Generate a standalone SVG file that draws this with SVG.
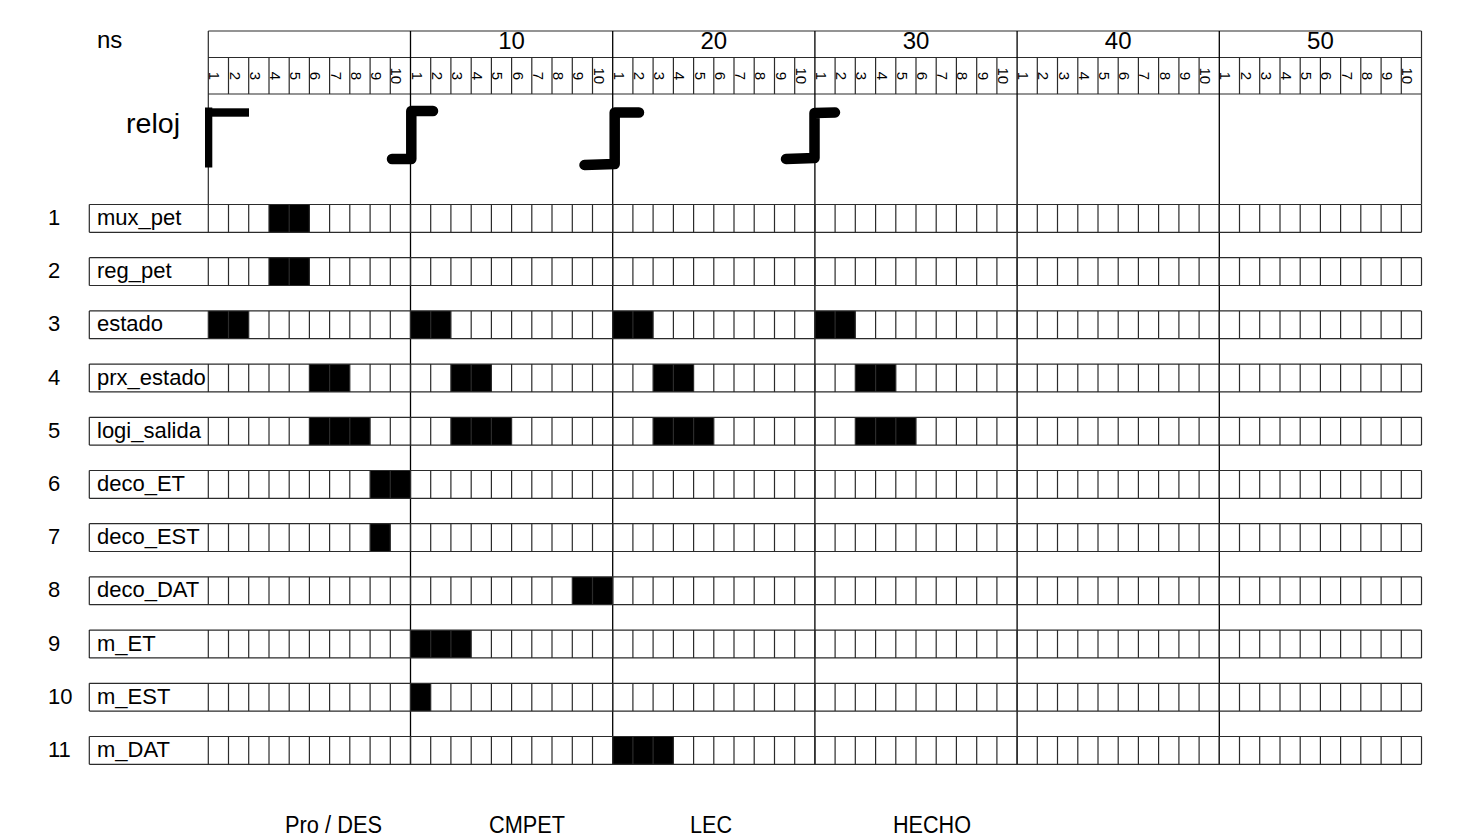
<svg xmlns="http://www.w3.org/2000/svg" xmlns:xlink="http://www.w3.org/1999/xlink" width="1457" height="838" viewBox="0 0 1457 838">
<style>
.cell{fill:none;stroke:#2b2b2b;stroke-width:1.2}
.major{fill:none;stroke:#000;stroke-width:1.3}
.on{fill:#000}
.t{font-family:"Liberation Sans",Arial,sans-serif;fill:#000}
.lbl{font-size:22px}
.dig{font-size:15px}
.hdr{font-size:24px}
.foot{font-size:23px}
.clk{fill:none;stroke:#000;stroke-width:10.5;stroke-linecap:round;stroke-linejoin:round}
</style>
<defs>
<path id="rowgrid" class="cell" d="M89.3 0H1421.5M89.3 27.8H1421.5M89.3 0V27.8M208.3 0V27.8M228.5 0V27.8M248.7 0V27.8M269 0V27.8M289.2 0V27.8M309.4 0V27.8M329.6 0V27.8M349.8 0V27.8M370.1 0V27.8M390.3 0V27.8M410.5 0V27.8M430.7 0V27.8M450.9 0V27.8M471.2 0V27.8M491.4 0V27.8M511.6 0V27.8M531.8 0V27.8M552 0V27.8M572.3 0V27.8M592.5 0V27.8M612.7 0V27.8M632.9 0V27.8M653.1 0V27.8M673.4 0V27.8M693.6 0V27.8M713.8 0V27.8M734 0V27.8M754.2 0V27.8M774.5 0V27.8M794.7 0V27.8M814.9 0V27.8M835.1 0V27.8M855.3 0V27.8M875.6 0V27.8M895.8 0V27.8M916 0V27.8M936.2 0V27.8M956.4 0V27.8M976.7 0V27.8M996.9 0V27.8M1017.1 0V27.8M1037.3 0V27.8M1057.5 0V27.8M1077.8 0V27.8M1098 0V27.8M1118.2 0V27.8M1138.4 0V27.8M1158.6 0V27.8M1178.9 0V27.8M1199.1 0V27.8M1219.3 0V27.8M1239.5 0V27.8M1259.7 0V27.8M1280 0V27.8M1300.2 0V27.8M1320.4 0V27.8M1340.6 0V27.8M1360.8 0V27.8M1381.1 0V27.8M1401.3 0V27.8M1421.5 0V27.8"/>
<g id="digits" class="t dig" text-anchor="middle">
<text transform="translate(209.3,75.8) rotate(90)">1</text>
<text transform="translate(229.5,75.8) rotate(90)">2</text>
<text transform="translate(249.7,75.8) rotate(90)">3</text>
<text transform="translate(270,75.8) rotate(90)">4</text>
<text transform="translate(290.2,75.8) rotate(90)">5</text>
<text transform="translate(310.4,75.8) rotate(90)">6</text>
<text transform="translate(330.6,75.8) rotate(90)">7</text>
<text transform="translate(350.8,75.8) rotate(90)">8</text>
<text transform="translate(371.1,75.8) rotate(90)">9</text>
<text transform="translate(391.3,75.8) rotate(90)">10</text>
</g>
</defs>
<rect width="1457" height="838" fill="#fff"/>

<g id="header">
<text class="t hdr" x="97" y="47.5">ns</text>
<path class="cell" d="M208.3 31H1421.5M208.3 57.5H1421.5M208.3 94H1421.5M208.3 31V204.5M1421.5 31V204.5"/>
<path class="cell" d="M228.5 57.5V94M248.7 57.5V94M269 57.5V94M289.2 57.5V94M309.4 57.5V94M329.6 57.5V94M349.8 57.5V94M370.1 57.5V94M390.3 57.5V94M430.7 57.5V94M450.9 57.5V94M471.2 57.5V94M491.4 57.5V94M511.6 57.5V94M531.8 57.5V94M552 57.5V94M572.3 57.5V94M592.5 57.5V94M632.9 57.5V94M653.1 57.5V94M673.4 57.5V94M693.6 57.5V94M713.8 57.5V94M734 57.5V94M754.2 57.5V94M774.5 57.5V94M794.7 57.5V94M835.1 57.5V94M855.3 57.5V94M875.6 57.5V94M895.8 57.5V94M916 57.5V94M936.2 57.5V94M956.4 57.5V94M976.7 57.5V94M996.9 57.5V94M1037.3 57.5V94M1057.5 57.5V94M1077.8 57.5V94M1098 57.5V94M1118.2 57.5V94M1138.4 57.5V94M1158.6 57.5V94M1178.9 57.5V94M1199.1 57.5V94M1239.5 57.5V94M1259.7 57.5V94M1280 57.5V94M1300.2 57.5V94M1320.4 57.5V94M1340.6 57.5V94M1360.8 57.5V94M1381.1 57.5V94M1401.3 57.5V94"/>
<g class="t hdr" text-anchor="middle">
<text x="511.6" y="49">10</text>
<text x="713.8" y="49">20</text>
<text x="916" y="49">30</text>
<text x="1118.2" y="49">40</text>
<text x="1320.4" y="49">50</text>
</g>
<use xlink:href="#digits"/>
<use xlink:href="#digits" x="202.2"/>
<use xlink:href="#digits" x="404.4"/>
<use xlink:href="#digits" x="606.6"/>
<use xlink:href="#digits" x="808.8"/>
<use xlink:href="#digits" x="1011"/>
</g>

<g id="majors">
<path class="major" d="M410.5 31V764.3M612.7 31V764.3M814.9 31V764.3M1017.1 31V764.3M1219.3 31V764.3"/>
</g>

<g id="reloj">
<text class="t" x="126" y="133" font-size="27" textLength="54" lengthAdjust="spacingAndGlyphs">reloj</text>
<rect x="205" y="107.5" width="7.3" height="60" fill="#000"/>
<rect x="205" y="108.3" width="44" height="8.4" fill="#000"/>
<path class="clk" d="M392 159L411.3 159L411.3 111L433 111"/>
<path class="clk" d="M584.5 165L614.7 164L614.7 112.5L639 112.5"/>
<path class="clk" d="M786 159L814.5 158L814.5 113L835 112.5"/>
</g>

<g id="row-mux_pet">
<rect class="on" x="269" y="204.5" width="40.4" height="27.8"/>
<use xlink:href="#rowgrid" y="204.5"/>
<text class="t lbl" x="48" y="225">1</text>
<text class="t lbl" x="97" y="225">mux_pet</text>
</g>
<g id="row-reg_pet">
<rect class="on" x="269" y="257.7" width="40.4" height="27.8"/>
<use xlink:href="#rowgrid" y="257.7"/>
<text class="t lbl" x="48" y="278.2">2</text>
<text class="t lbl" x="97" y="278.2">reg_pet</text>
</g>
<g id="row-estado">
<rect class="on" x="208.3" y="310.9" width="40.4" height="27.8"/>
<rect class="on" x="410.5" y="310.9" width="40.4" height="27.8"/>
<rect class="on" x="612.7" y="310.9" width="40.4" height="27.8"/>
<rect class="on" x="814.9" y="310.9" width="40.4" height="27.8"/>
<use xlink:href="#rowgrid" y="310.9"/>
<text class="t lbl" x="48" y="331.4">3</text>
<text class="t lbl" x="97" y="331.4">estado</text>
</g>
<g id="row-prx_estado">
<rect class="on" x="309.4" y="364.1" width="40.4" height="27.8"/>
<rect class="on" x="450.9" y="364.1" width="40.5" height="27.8"/>
<rect class="on" x="653.1" y="364.1" width="40.5" height="27.8"/>
<rect class="on" x="855.3" y="364.1" width="40.5" height="27.8"/>
<use xlink:href="#rowgrid" y="364.1"/>
<text class="t lbl" x="48" y="384.6">4</text>
<text class="t lbl" x="97" y="384.6">prx_estado</text>
</g>
<g id="row-logi_salida">
<rect class="on" x="309.4" y="417.3" width="60.7" height="27.8"/>
<rect class="on" x="450.9" y="417.3" width="60.7" height="27.8"/>
<rect class="on" x="653.1" y="417.3" width="60.7" height="27.8"/>
<rect class="on" x="855.3" y="417.3" width="60.7" height="27.8"/>
<use xlink:href="#rowgrid" y="417.3"/>
<text class="t lbl" x="48" y="437.8">5</text>
<text class="t lbl" x="97" y="437.8">logi_salida</text>
</g>
<g id="row-deco_ET">
<rect class="on" x="370.1" y="470.5" width="40.4" height="27.8"/>
<use xlink:href="#rowgrid" y="470.5"/>
<text class="t lbl" x="48" y="491">6</text>
<text class="t lbl" x="97" y="491">deco_ET</text>
</g>
<g id="row-deco_EST">
<rect class="on" x="370.1" y="523.7" width="20.2" height="27.8"/>
<use xlink:href="#rowgrid" y="523.7"/>
<text class="t lbl" x="48" y="544.2">7</text>
<text class="t lbl" x="97" y="544.2">deco_EST</text>
</g>
<g id="row-deco_DAT">
<rect class="on" x="572.3" y="576.9" width="40.4" height="27.8"/>
<use xlink:href="#rowgrid" y="576.9"/>
<text class="t lbl" x="48" y="597.4">8</text>
<text class="t lbl" x="97" y="597.4">deco_DAT</text>
</g>
<g id="row-m_ET">
<rect class="on" x="410.5" y="630.1" width="60.7" height="27.8"/>
<use xlink:href="#rowgrid" y="630.1"/>
<text class="t lbl" x="48" y="650.6">9</text>
<text class="t lbl" x="97" y="650.6">m_ET</text>
</g>
<g id="row-m_EST">
<rect class="on" x="410.5" y="683.3" width="20.2" height="27.8"/>
<use xlink:href="#rowgrid" y="683.3"/>
<text class="t lbl" x="48" y="703.8">10</text>
<text class="t lbl" x="97" y="703.8">m_EST</text>
</g>
<g id="row-m_DAT">
<rect class="on" x="612.7" y="736.5" width="60.7" height="27.8"/>
<use xlink:href="#rowgrid" y="736.5"/>
<text class="t lbl" x="48" y="757">11</text>
<text class="t lbl" x="97" y="757">m_DAT</text>
</g>

<g id="footer" class="t foot">
<text x="285" y="833" textLength="97" lengthAdjust="spacingAndGlyphs">Pro / DES</text>
<text x="489" y="833" textLength="76" lengthAdjust="spacingAndGlyphs">CMPET</text>
<text x="690" y="833" textLength="42" lengthAdjust="spacingAndGlyphs">LEC</text>
<text x="893" y="833" textLength="78" lengthAdjust="spacingAndGlyphs">HECHO</text>
</g>

<g id="connectors"></g>
</svg>
